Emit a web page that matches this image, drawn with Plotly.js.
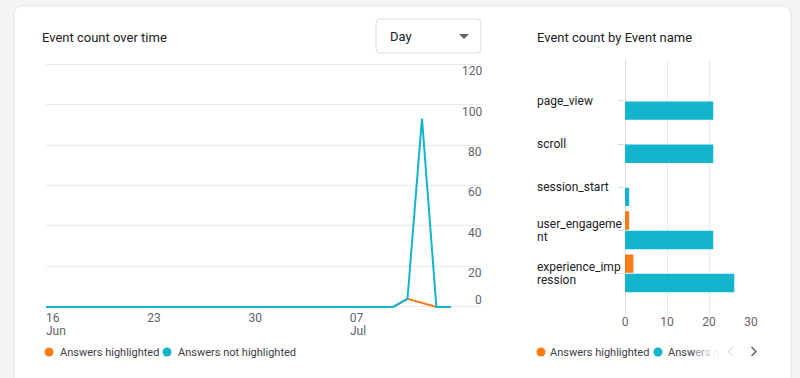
<!DOCTYPE html>
<html>
<head>
<meta charset="utf-8">
<script src="https://cdn.plot.ly/plotly-3.0.1.min.js"></script>
<style>
html,body{margin:0;padding:0;background:#f3f4f5;}
#chart{width:800px;height:378px;}
</style>
</head>
<body>
<div id="chart"></div>
<script>
// ---- data ----
const dates = ['2024-06-16','2024-06-17','2024-06-18','2024-06-19','2024-06-20','2024-06-21','2024-06-22',
  '2024-06-23','2024-06-24','2024-06-25','2024-06-26','2024-06-27','2024-06-28','2024-06-29',
  '2024-06-30','2024-07-01','2024-07-02','2024-07-03','2024-07-04','2024-07-05','2024-07-06',
  '2024-07-07','2024-07-08','2024-07-09','2024-07-10','2024-07-11','2024-07-12','2024-07-13','2024-07-14'];
const highlightedDaily = [0,0,0,0,0,0,0, 0,0,0,0,0,0,0, 0,0,0,0,0,0,0, 0,0,0,0,4,2,0,0];
const notHighlightedDaily = [0,0,0,0,0,0,0, 0,0,0,0,0,0,0, 0,0,0,0,0,0,0, 0,0,0,0,4,93,0,0];
const dateTickVals = ['2024-06-16','2024-06-23','2024-06-30','2024-07-07'];
const dateTickText = ['16','23','30','07'];
const monthLabelDates = ['2024-06-16','2024-07-07'];
const monthLabels = ['Jun','Jul'];
const countTicks = [0,20,40,60,80,100,120];

const eventNames = ['page_view','scroll','session_start','user_engagement','experience_impression'];
const eventLabelLines = [['page_view'],['scroll'],['session_start'],['user_engageme','nt'],['experience_imp','ression']];
const highlightedByEvent = [0,0,0,1,2];
const notHighlightedByEvent = [21,21,1,21,26];
const barTicks = [0,10,20,30];

const seriesNames = ['Answers highlighted','Answers not highlighted'];
const ORANGE = '#fa7b17', TEAL = '#12b5cb';

// ---- helpers (paper coords, margins are zero) ----
const W = 800, H = 378;
const px = x => x / W;
const py = y => 1 - y / H;

const FONT = 'Roboto, Arial, sans-serif';

const traces = [
  {x: dates, y: highlightedDaily, type: 'scatter', mode: 'lines', name: seriesNames[0],
   line: {color: ORANGE, width: 2}, xaxis: 'x', yaxis: 'y', showlegend: false},
  {x: dates, y: notHighlightedDaily, type: 'scatter', mode: 'lines', name: seriesNames[1],
   line: {color: TEAL, width: 2}, xaxis: 'x', yaxis: 'y', showlegend: false},
  {y: eventNames, x: highlightedByEvent, type: 'bar', orientation: 'h', name: seriesNames[0],
   marker: {color: ORANGE}, xaxis: 'x2', yaxis: 'y2', showlegend: false},
  {y: eventNames, x: notHighlightedByEvent, type: 'bar', orientation: 'h', name: seriesNames[1],
   marker: {color: TEAL}, xaxis: 'x2', yaxis: 'y2', showlegend: false}
];

function roundRect(x0, y0, x1, y1, r) {
  return `M ${px(x0+r)},${py(y0)} L ${px(x1-r)},${py(y0)} Q ${px(x1)},${py(y0)} ${px(x1)},${py(y0+r)} ` +
         `L ${px(x1)},${py(y1-r)} Q ${px(x1)},${py(y1)} ${px(x1-r)},${py(y1)} ` +
         `L ${px(x0+r)},${py(y1)} Q ${px(x0)},${py(y1)} ${px(x0)},${py(y1-r)} ` +
         `L ${px(x0)},${py(y0+r)} Q ${px(x0)},${py(y0)} ${px(x0+r)},${py(y0)} Z`;
}

const shapes = [
  // card
  {type: 'path', xref: 'paper', yref: 'paper', path: roundRect(14, 6, 791, 400, 9),
   fillcolor: '#ffffff', line: {color: '#e3e4e6', width: 1}, layer: 'below'},
  // dropdown
  {type: 'path', xref: 'paper', yref: 'paper', path: roundRect(376, 19, 481, 53, 4),
   fillcolor: '#ffffff', line: {color: '#dadce0', width: 1}, layer: 'below'},
  {type: 'path', xref: 'paper', yref: 'paper',
   path: `M ${px(459)},${py(34)} L ${px(469)},${py(34)} L ${px(464)},${py(39)} Z`,
   fillcolor: '#5f6368', line: {width: 0}},
  // pager chevrons
  {type: 'path', xref: 'paper', yref: 'paper',
   path: `M ${px(733)},${py(347)} L ${px(728.5)},${py(351.5)} L ${px(733)},${py(356)}`,
   line: {color: '#e3e4e6', width: 1.5}},
  {type: 'path', xref: 'paper', yref: 'paper',
   path: `M ${px(751.5)},${py(347)} L ${px(756)},${py(351.5)} L ${px(751.5)},${py(356)}`,
   line: {color: '#5f6368', width: 1.5}},
];

// legend circles
const legendDots = [
  {x: 49, y: 352, c: ORANGE}, {x: 167, y: 352, c: TEAL},
  {x: 541, y: 352, c: ORANGE}, {x: 658, y: 352, c: TEAL}
];
legendDots.forEach(d => shapes.push({type: 'circle', xref: 'paper', yref: 'paper',
  x0: px(d.x - 4.5), x1: px(d.x + 4.5), y0: py(d.y + 4.5), y1: py(d.y - 4.5),
  fillcolor: d.c, line: {width: 0}}));

const ann = (x, y, text, size, color, extra) => Object.assign({
  xref: 'paper', yref: 'paper', x: px(x), y: py(y), text: text, showarrow: false,
  xanchor: 'left', yanchor: 'middle', borderpad: 0,
  font: {family: FONT, size: size, color: color}
}, extra || {});

const annotations = [
  ann(41, 37, 'Event count over time', 13, '#202124'),
  ann(536, 37, 'Event count by Event name', 13, '#202124'),
  ann(389, 36.5, 'Day', 13, '#202124'),
  ann(59, 352, seriesNames[0], 11, '#3c4043'),
  ann(177, 352, seriesNames[1], 11, '#3c4043'),
  ann(549, 352, seriesNames[0], 11, '#3c4043'),
  ann(667, 352, 'Answ<span style="color:#9aa0a6">er</span><span style="color:#c8cacd">s</span><span style="color:#eceef0"> n</span>', 11, '#3c4043'),
];
// y tick labels of the line chart (GA places them just below each gridline, the 0 just above)
countTicks.forEach(v => annotations.push({
  xref: 'paper', yref: 'y', x: px(483), y: v, text: String(v), showarrow: false,
  xanchor: 'right', yanchor: 'middle', borderpad: 0, yshift: v === 0 ? 7 : -7,
  font: {family: FONT, size: 12, color: '#5f6368'}
}));
// month labels under the day ticks
monthLabelDates.forEach((d, i) => annotations.push({
  xref: 'x', yref: 'paper', x: d, y: py(331), text: monthLabels[i], showarrow: false,
  xanchor: 'left', yanchor: 'middle', borderpad: 0, xshift: -1,
  font: {family: FONT, size: 12, color: '#5f6368'}
}));
// category labels for bar chart
eventNames.forEach((n, i) => {
  const lines = eventLabelLines[i];
  lines.forEach((t, j) => annotations.push({
    xref: 'paper', yref: 'y2', x: px(536), y: n, text: t, showarrow: false,
    xanchor: 'left', yanchor: 'middle', align: 'left', borderpad: 0,
    yshift: -((j - (lines.length - 1) / 2) * 12.5),
    font: {family: FONT, size: 12, color: '#202124'}
  }));
});

const layout = {
  width: W, height: H,
  margin: {l: 0, r: 0, t: 0, b: 0},
  paper_bgcolor: '#f3f4f5', plot_bgcolor: 'rgba(0,0,0,0)',
  font: {family: FONT, size: 12, color: '#5f6368'},
  showlegend: false,
  xaxis: {
    domain: [px(46), px(481)], type: 'date',
    range: ['2024-06-16', '2024-07-16 02:00'],
    tickvals: dateTickVals, ticktext: dateTickText,
    ticklabelposition: 'outside right',
    ticks: '',
    showgrid: false, zeroline: false, showline: false,
    tickfont: {family: FONT, size: 12, color: '#5f6368'}, fixedrange: true
  },
  yaxis: {
    domain: [py(309), py(62)], range: [-1, 121], side: 'right',
    anchor: 'x', tickvals: countTicks, showticklabels: false,
    showgrid: true, gridcolor: '#e8eaed', gridwidth: 1, zeroline: false,
    fixedrange: true
  },
  xaxis2: {
    domain: [px(625), px(751.5)], range: [0, 30.1], anchor: 'y2',
    tickvals: barTicks, showgrid: true, gridcolor: '#e8eaed',
    zeroline: true, zerolinecolor: '#dadce0', zerolinewidth: 1,
    tickfont: {family: FONT, size: 12, color: '#5f6368'}, fixedrange: true
  },
  yaxis2: {
    domain: [py(313), py(60)], anchor: 'x2', type: 'category',
    categoryarray: eventNames, range: [4.92, -0.95],
    showticklabels: false, ticks: 'outside', ticklen: 6, tickcolor: '#dadce0',
    showgrid: false, zeroline: false, fixedrange: true
  },
  barmode: 'group', bargap: 0.1, bargroupgap: 0.05,
  shapes: shapes, annotations: annotations
};

Plotly.newPlot('chart', traces, layout, {displayModeBar: false, staticPlot: true});
</script>
</body>
</html>
